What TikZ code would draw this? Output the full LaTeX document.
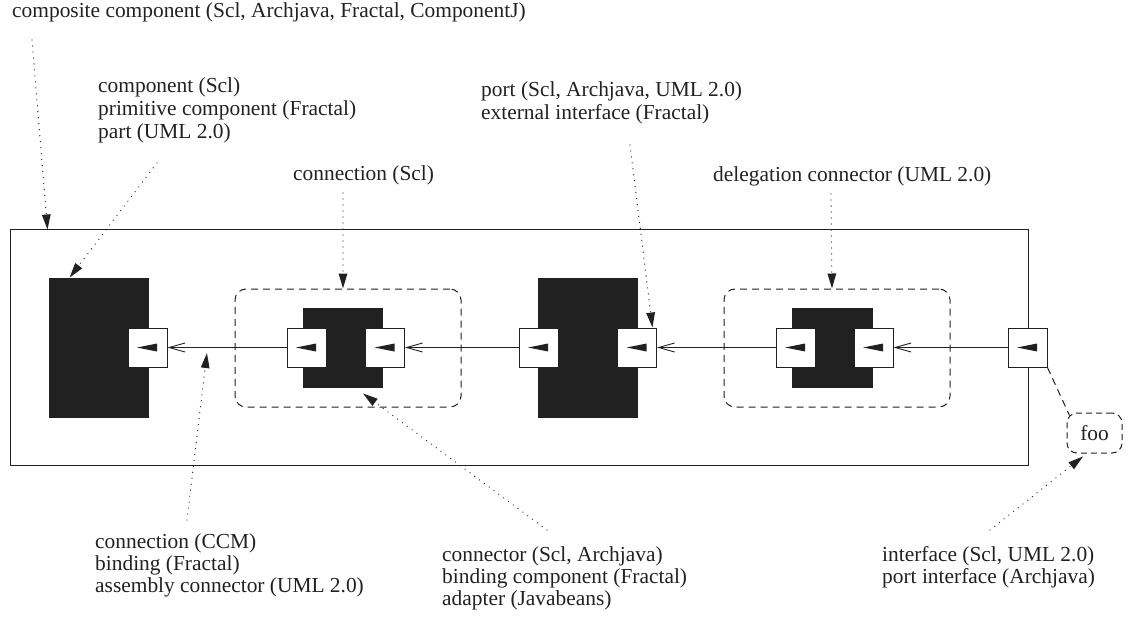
\documentclass[tikz,border=0pt]{standalone}
\usepackage{fontspec}
\setmainfont{Liberation Serif}
\usetikzlibrary{arrows.meta}
\definecolor{ink}{RGB}{33,33,33}
\begin{document}
\begin{tikzpicture}[x=1pt,y=-1pt,
  lbl/.style={anchor=base west, inner sep=0pt, text=ink, font=\fontsize{21.4}{24}\selectfont},
  comp/.style={draw=ink, fill=ink, line width=0.8pt, minimum width=99pt, minimum height=139pt, inner sep=0pt},
  core/.style={draw=ink, fill=ink, line width=0.8pt, minimum width=79.5pt, minimum height=79pt, inner sep=0pt},
  conbox/.style={draw=ink, line width=1pt, dash pattern=on 7pt off 5pt, rounded corners=11pt, minimum width=226pt, minimum height=118pt, inner sep=0pt},
  port/.style={draw=ink, fill=white, line width=0.9pt, minimum width=39pt, minimum height=39pt, inner sep=0pt,
    path picture={\fill[ink] ([xshift=-10.5pt]path picture bounding box.center) -- ++(20pt,4pt) -- ++(0pt,-8pt) -- cycle;}},
  conn/.style={draw=ink, line width=0.9pt, -{Straight Barb[length=16pt,width=9pt,line width=0.9pt]}},
  dots/.style={draw=ink, line width=1.3pt, line cap=round, dash pattern=on 0pt off 6pt, -{Triangle[length=15pt,width=8.5pt]}},
]
\useasboundingbox (0,0) rectangle (1126,620);

% outer composite
\node[draw=ink, line width=1pt, minimum width=1018pt, minimum height=235pt, inner sep=0pt] (outer) at (519,347.5) {};

% components and connectors
\node[comp] (lc) at (98.5,347.5) {};
\node[conbox] (c1) at (348,348) {};
\node[core] (c1b) at (343,347.5) {};
\node[comp] (mc) at (587.5,347.5) {};
\node[conbox] (c2) at (837,348) {};
\node[core] (c2b) at (832.5,347.5) {};

% ports
\node[port] (p1) at (147.5,347.5) {};
\node[port] (c1l) at (306.5,347.5) {};
\node[port] (c1r) at (385,347.5) {};
\node[port] (ml) at (538.5,347.5) {};
\node[port] (mr) at (637,347.5) {};
\node[port] (c2l) at (795.5,347.5) {};
\node[port] (c2r) at (873.5,347.5) {};
\node[port] (op) at (1027.5,347.5) {};

\draw[conn] (c1l.west) -- (p1.east);
\draw[conn] (ml.west) -- (c1r.east);
\draw[conn] (c2l.west) -- (mr.east);
\draw[conn] (op.west) -- (c2r.east);

% foo
\node[draw=ink, line width=1pt, dash pattern=on 6pt off 4pt, rounded corners=10pt, minimum width=55pt, minimum height=40pt, inner sep=0pt, text=ink, font=\fontsize{21.4}{24}\selectfont] (foo) at (1094.5,433) {foo};
\draw[draw=ink, line width=1pt, dash pattern=on 7pt off 5pt] (op.south east) -- ([xshift=3pt,yshift=-3pt]foo.north west);

% labels
\node[lbl] (t0) at (12,18) {composite component (Scl, Archjava, Fractal, ComponentJ)};
\node[lbl] (t1a) at (98,93) {component (Scl)};
\node[lbl] (t1b) at (98,116) {primitive component (Fractal)};
\node[lbl] (t1c) at (98,139) {part (UML 2.0)};
\node[lbl] (t2) at (293,181) {connection (Scl)};
\node[lbl] (t3a) at (481,97) {port (Scl, Archjava, UML 2.0)};
\node[lbl] (t3b) at (481,120) {external interface (Fractal)};
\node[lbl] (t4) at (713,182) {delegation connector (UML 2.0)};
\node[lbl] (t5a) at (95,548) {connection (CCM)};
\node[lbl] (t5b) at (95,570) {binding (Fractal)};
\node[lbl] (t5c) at (95,592) {assembly connector (UML 2.0)};
\node[lbl] (t6a) at (442,561) {connector (Scl, Archjava)};
\node[lbl] (t6b) at (442,583) {binding component (Fractal)};
\node[lbl] (t6c) at (442,605) {adapter (Javabeans)};
\node[lbl] (t7a) at (882,561) {interface (Scl, UML 2.0)};
\node[lbl] (t7b) at (882,583) {port interface (Archjava)};

% dotted pointers
\coordinate (s0) at (32,40);
\coordinate (s1) at (157,163);
\coordinate (s2) at (343,193);
\coordinate (s3) at (630,145);
\coordinate (s4) at (831,194);
\coordinate (s5) at (187,520);
\coordinate (s6) at (547,530);
\coordinate (s7) at (990,530);
\draw[dots] (s0) -- ([xshift=38pt]outer.north west);
\draw[dots] (s1) -- ([xshift=21pt]lc.north west);
\draw[dots] (s2) -- ([xshift=-5pt]c1.north);
\draw[dots] (s3) -- ([xshift=-4.5pt]mr.north east);
\draw[dots] (s4) -- ([xshift=-5pt]c2.north);
\draw[dots] (s5) -- ([xshift=39.5pt,yshift=-5.5pt]p1.east);
\draw[dots] (s6) -- ([xshift=20pt,yshift=-6pt]c1b.south);
\draw[dots] (s7) -- ([xshift=-11.5pt,yshift=-3pt]foo.south);
\end{tikzpicture}
\end{document}
